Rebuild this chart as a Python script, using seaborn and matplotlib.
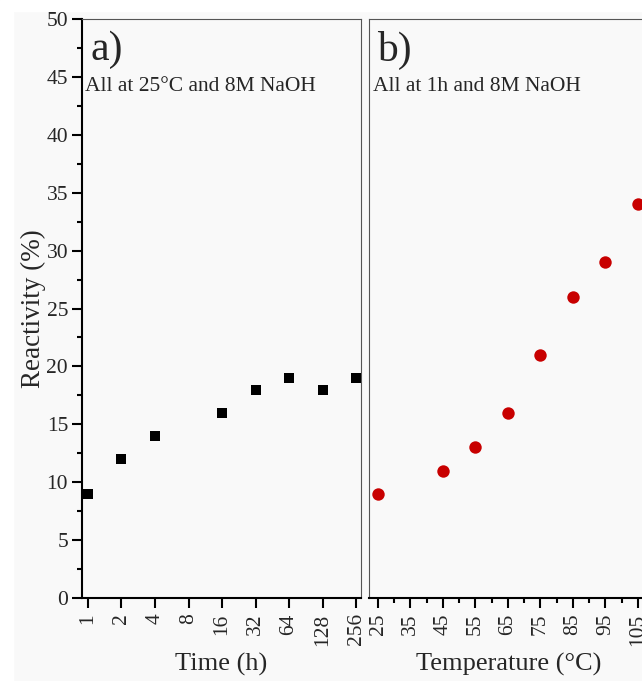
import pandas as pd
import matplotlib
matplotlib.use("Agg")
import matplotlib.pyplot as plt
import seaborn as sns
from matplotlib.patches import Rectangle
from matplotlib.ticker import FixedLocator, MultipleLocator, NullLocator

# data
time_h = [1, 2, 4, 16, 32, 64, 128, 256]
time_reactivity = [9, 12, 14, 16, 18, 19, 18, 19]
temp_c = [25, 45, 55, 65, 75, 85, 95, 105]
temp_reactivity = [9, 11, 13, 16, 21, 26, 29, 34]
time_ticks = [1, 2, 4, 8, 16, 32, 64, 128, 256]
temp_ticks = [25, 35, 45, 55, 65, 75, 85, 95, 105]

sns.set_style("ticks")
plt.rcParams["font.family"] = ["Liberation Serif", "DejaVu Serif"]

bg = "#f9f9f9"
W, H = 642, 681
fig = plt.figure(figsize=(W / 100, H / 100), dpi=100, facecolor=bg)
fig.add_artist(Rectangle((0, 1 - 11 / H), 1, 11 / H, transform=fig.transFigure, color="white", zorder=-1))
fig.add_artist(Rectangle((0, 0), 13 / W, 1, transform=fig.transFigure, color="white", zorder=-1))

ax1 = fig.add_axes([82 / W, (H - 598) / H, 279 / W, 579 / H], facecolor=bg)
ax2 = fig.add_axes([369 / W, (H - 598) / H, 279 / W, 579 / H], facecolor=bg)

df_time = pd.DataFrame({"Time": time_h, "Reactivity": time_reactivity})
df_temp = pd.DataFrame({"Temperature": temp_c, "Reactivity": temp_reactivity})

sns.scatterplot(data=df_time, x="Time", y="Reactivity", ax=ax1, marker="s", s=60,
                color="black", edgecolor="black", linewidth=0, clip_on=False, zorder=3)
sns.scatterplot(data=df_temp, x="Temperature", y="Reactivity", ax=ax2, marker="o", s=80,
                color="#c80000", edgecolor="#c80000", linewidth=0, clip_on=False, zorder=3)

for ax in (ax1, ax2):
    ax.set_ylim(0, 50)
    for side in ("top", "right", "left", "bottom"):
        ax.spines[side].set_visible(True)
        ax.spines[side].set_color("#555555")
        ax.spines[side].set_linewidth(0.8)
    ax.spines["bottom"].set_color("black")
    ax.spines["bottom"].set_linewidth(1.5)
    ax.tick_params(axis="both", which="major", direction="out", length=7, width=1.5,
                   labelsize=15.5, color="black", pad=3)
    ax.tick_params(axis="both", which="minor", direction="out", length=3.5, width=1.5, color="black")
    ax.tick_params(axis="x", labelrotation=90, pad=4)

# panel a
ax1.set_xscale("log", base=2)
ax1.set_xlim(2 ** -0.179, 2 ** 8.149)
ax1.xaxis.set_major_locator(FixedLocator(time_ticks))
ax1.xaxis.set_minor_locator(NullLocator())
ax1.set_xticklabels([str(t) for t in time_ticks])
ax1.yaxis.set_major_locator(MultipleLocator(5))
ax1.yaxis.set_minor_locator(MultipleLocator(2.5))
ax1.spines["left"].set_color("black")
ax1.spines["left"].set_linewidth(1.5)
ax1.set_xlabel("Time (h)", fontsize=19, labelpad=5)
ax1.set_ylabel("Reactivity (%)", fontsize=19.5, labelpad=0)
ax1.text(0.03, 0.98, "a)", transform=ax1.transAxes, fontsize=30, va="top", ha="left")
ax1.text(0.012, 0.884, "All at 25°C and 8M NaOH", transform=ax1.transAxes, fontsize=15.5,
         va="center", ha="left")

# panel b
ax2.set_xlim(22.23, 108.1)
ax2.xaxis.set_major_locator(FixedLocator(temp_ticks))
ax2.xaxis.set_minor_locator(MultipleLocator(5))
ax2.tick_params(axis="y", which="both", left=False, labelleft=False)
ax2.set_xlabel("Temperature (°C)", fontsize=19, labelpad=5)
ax2.set_ylabel("")
ax2.text(0.028, 0.98, "b)", transform=ax2.transAxes, fontsize=30, va="top", ha="left")
ax2.text(0.016, 0.884, "All at 1h and 8M NaOH", transform=ax2.transAxes, fontsize=15.5,
         va="center", ha="left")

fig.savefig("out.png", dpi=100, facecolor=bg)
